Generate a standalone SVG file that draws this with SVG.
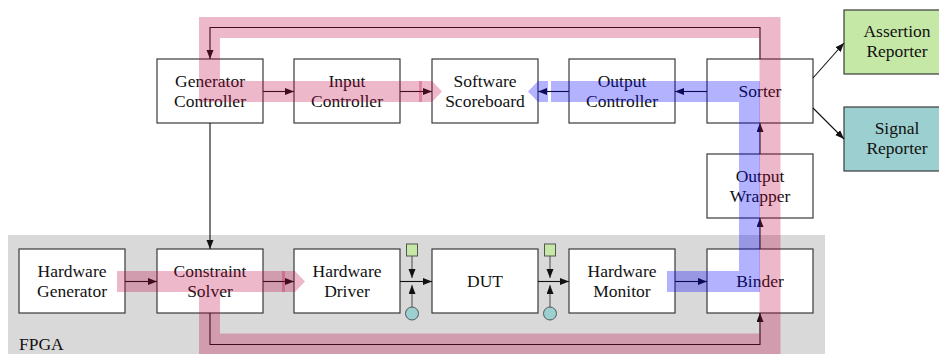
<svg xmlns="http://www.w3.org/2000/svg" width="939" height="354" viewBox="0 0 939 354">
  <defs>
    <marker id="arr" markerUnits="userSpaceOnUse" markerWidth="10" markerHeight="8" refX="9" refY="3.5" orient="auto">
      <path d="M0,0 L9,3.5 L0,7 Z" fill="#111"/>
    </marker>
    <marker id="arrg" markerUnits="userSpaceOnUse" markerWidth="10" markerHeight="8" refX="9" refY="3.5" orient="auto">
      <path d="M0,0 L9,3.5 L0,7 Z" fill="#111"/>
    </marker>
  </defs>
  <style>
    .box { fill: #ffffff; stroke: #3a3a3a; stroke-width: 1.2; }
    .green { fill: #c6e8a6; stroke: #3a3a3a; stroke-width: 1.2; }
    .teal { fill: #9ccfcf; stroke: #3a3a3a; stroke-width: 1.2; }
    .lbl { font-family: "Liberation Serif", "Times New Roman", serif; font-size: 17.5px; fill: #111; text-anchor: middle; }
    .fpga { font-family: "Liberation Serif", "Times New Roman", serif; font-size: 17.5px; fill: #111; }
    .wire { fill: none; stroke: #111; stroke-width: 1.1; }
    .tap { fill: none; stroke: #555; stroke-width: 1.1; }
    .sq { fill: #c6e8a6; stroke: #555; stroke-width: 1; }
    .dot { fill: #9ccfcf; stroke: #555; stroke-width: 1; }
    .pink { fill: none; stroke: #bf0040; stroke-width: 21; stroke-linejoin: miter; stroke-opacity: 0.28; }
    .pinkhead { fill: #bf0040; fill-opacity: 0.28; }
    .blue { fill: none; stroke: #0000ff; stroke-width: 21; stroke-linejoin: miter; stroke-opacity: 0.3; }
    .bluehead { fill: #0000ff; fill-opacity: 0.3; }
  </style>

  <!-- FPGA region -->
  <g id="fpga">
    <rect x="8" y="235" width="817" height="125" fill="#d9d9d9"/>
    <text class="fpga" x="19" y="350">FPGA</text>
  </g>

  <!-- software side -->
  <g id="generator-controller">
    <rect class="box" x="157" y="59" width="106" height="64"/>
    <text class="lbl" x="210" y="87">Generator</text>
    <text class="lbl" x="210" y="107">Controller</text>
  </g>
  <g id="input-controller">
    <rect class="box" x="294" y="59" width="106" height="64"/>
    <text class="lbl" x="347" y="87">Input</text>
    <text class="lbl" x="347" y="107">Controller</text>
  </g>
  <g id="software-scoreboard">
    <rect class="box" x="432" y="59" width="106" height="64"/>
    <text class="lbl" x="485" y="87">Software</text>
    <text class="lbl" x="485" y="107">Scoreboard</text>
  </g>
  <g id="output-controller">
    <rect class="box" x="569" y="59" width="106" height="64"/>
    <text class="lbl" x="622" y="87">Output</text>
    <text class="lbl" x="622" y="107">Controller</text>
  </g>
  <g id="sorter">
    <rect class="box" x="707" y="59" width="106" height="64"/>
    <text class="lbl" x="760" y="97">Sorter</text>
  </g>
  <g id="output-wrapper">
    <rect class="box" x="707" y="154" width="106" height="64"/>
    <text class="lbl" x="760" y="182">Output</text>
    <text class="lbl" x="760" y="202">Wrapper</text>
  </g>
  <g id="assertion-reporter">
    <rect class="green" x="844" y="10" width="106" height="64"/>
    <text class="lbl" x="897" y="37">Assertion</text>
    <text class="lbl" x="897" y="57">Reporter</text>
  </g>
  <g id="signal-reporter">
    <rect class="teal" x="844" y="107" width="106" height="64"/>
    <text class="lbl" x="897" y="134">Signal</text>
    <text class="lbl" x="897" y="154">Reporter</text>
  </g>

  <!-- hardware side -->
  <g id="hardware-generator">
    <rect class="box" x="19" y="249" width="106" height="64"/>
    <text class="lbl" x="72" y="277">Hardware</text>
    <text class="lbl" x="72" y="297">Generator</text>
  </g>
  <g id="constraint-solver">
    <rect class="box" x="157" y="249" width="106" height="64"/>
    <text class="lbl" x="210" y="277">Constraint</text>
    <text class="lbl" x="210" y="297">Solver</text>
  </g>
  <g id="hardware-driver">
    <rect class="box" x="294" y="249" width="106" height="64"/>
    <text class="lbl" x="347" y="277">Hardware</text>
    <text class="lbl" x="347" y="297">Driver</text>
  </g>
  <g id="dut">
    <rect class="box" x="432" y="249" width="106" height="64"/>
    <text class="lbl" x="485" y="287">DUT</text>
  </g>
  <g id="hardware-monitor">
    <rect class="box" x="569" y="249" width="106" height="64"/>
    <text class="lbl" x="622" y="277">Hardware</text>
    <text class="lbl" x="622" y="297">Monitor</text>
  </g>
  <g id="binder">
    <rect class="box" x="707" y="249" width="106" height="64"/>
    <text class="lbl" x="760" y="287">Binder</text>
  </g>

  <!-- connectors -->
  <g id="connectors">
    <path class="wire" d="M263,91.5 H294" marker-end="url(#arr)"/>
    <path class="wire" d="M400,91.5 H432" marker-end="url(#arr)"/>
    <path class="wire" d="M569,91.5 H538" marker-end="url(#arr)"/>
    <path class="wire" d="M707,91.5 H675" marker-end="url(#arr)"/>
    <path class="wire" d="M760,59 V27.5 H210 V59" marker-end="url(#arr)"/>
    <path class="wire" d="M210,123 V249" marker-end="url(#arr)"/>
    <path class="wire" d="M125,281.5 H157" marker-end="url(#arr)"/>
    <path class="wire" d="M263,281.5 H294" marker-end="url(#arr)"/>
    <path class="wire" d="M400,281.5 H432" marker-end="url(#arr)"/>
    <path class="wire" d="M538,281.5 H569" marker-end="url(#arr)"/>
    <path class="wire" d="M675,281.5 H707" marker-end="url(#arr)"/>
    <path class="wire" d="M760,249 V218" marker-end="url(#arr)"/>
    <path class="wire" d="M760,154 V123" marker-end="url(#arr)"/>
    <path class="wire" d="M210,313 V344.5 H760 V313" marker-end="url(#arr)"/>
    <path class="wire" d="M813,78 L844,43" marker-end="url(#arr)"/>
    <path class="wire" d="M813,108 L844,139" marker-end="url(#arr)"/>
    <!-- stimulus / probe taps -->
    <path class="tap" d="M412,256 V278" marker-end="url(#arrg)"/>
    <path class="tap" d="M412,307 V285" marker-end="url(#arrg)"/>
    <path class="tap" d="M550,256 V278" marker-end="url(#arrg)"/>
    <path class="tap" d="M550,307 V285" marker-end="url(#arrg)"/>
    <rect class="sq" x="406.5" y="244" width="11" height="12"/>
    <circle class="dot" cx="412" cy="313.5" r="6.5"/>
    <rect class="sq" x="544.5" y="244" width="11" height="12"/>
    <circle class="dot" cx="550" cy="313.5" r="6.5"/>
  </g>

  <!-- data-flow bands -->
  <g id="flows">
    <path class="pink" d="M117,281.5 H285"/>
    <path class="pinkhead" d="M282,271 H295 L305,281.5 L295,292 H282 Z"/>
    <path class="pink" d="M209.5,292 V344 H770 V27.5 H209.5 V91.5 H422"/>
    <path class="pinkhead" d="M419,81 H432 L442,91.5 L432,102 H419 Z"/>
    <path class="blue" d="M667,281.5 H749.5 V91.5 H551"/>
    <path class="bluehead" d="M548,81 H538 L528,91.5 L538,102 H548 Z"/>
  </g>
</svg>
